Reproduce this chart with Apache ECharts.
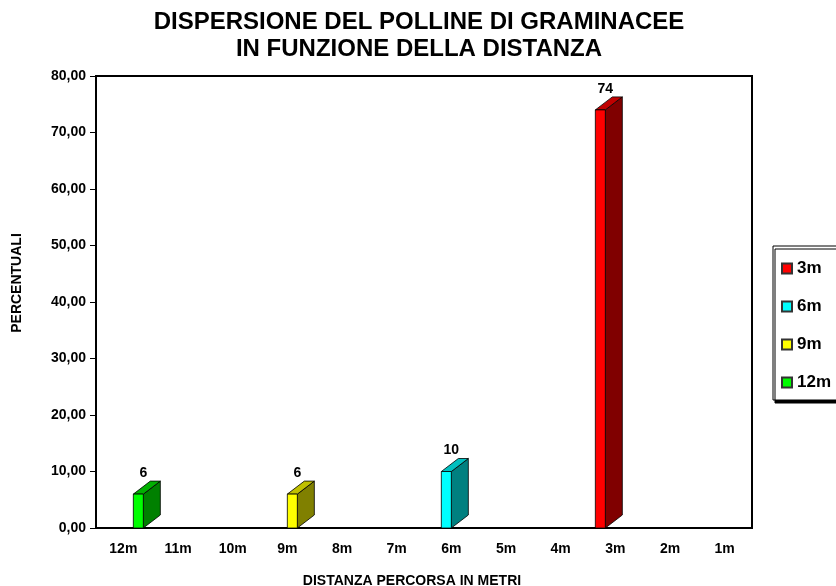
<!DOCTYPE html>
<html>
<head>
<meta charset="utf-8">
<script src="https://cdn.jsdelivr.net/npm/echarts@6/dist/echarts.min.js"></script>
<style>
  html, body { margin: 0; padding: 0; background: #fff; }
  #chart { width: 836px; height: 586px; }
</style>
</head>
<body>
<div id="chart"></div>
<script>
// dati
const categories = ["12m", "11m", "10m", "9m", "8m", "7m", "6m", "5m", "4m", "3m", "2m", "1m"];
const seriesNames = ["3m", "6m", "9m", "12m"];
const values3m = [null, null, null, null, null, null, null, null, null, 74, null, null];
const values6m = [null, null, null, null, null, null, 10, null, null, null, null, null];
const values9m = [null, null, null, 6, null, null, null, null, null, null, null, null];
const values12m = [6, null, null, null, null, null, null, null, null, null, null, null];
const yTicks = { min: 0, max: 80, interval: 10 };

// colori: fronte, lato, sopra
const faceColors = [
  ["#ff0000", "#800000", "#c00000"],
  ["#00ffff", "#008080", "#00c0c0"],
  ["#ffff00", "#808000", "#c0c000"],
  ["#00ff00", "#008000", "#00b000"],
];

const allValues = [values3m, values6m, values9m, values12m];
const font = "Liberation Sans, Arial, sans-serif";
const barW = 10;
const depthX = 17;
const depthY = -13;

const makeRender = (idx) => (params, api) => {
  const v = api.value(1);
  if (v == null || isNaN(v)) return;
  const p = api.coord([api.value(0), v]);
  const b = api.coord([api.value(0), 0]);
  const x0 = p[0] + (idx - 1.5) * barW - barW / 2;
  const x1 = x0 + barW;
  const top = p[1];
  const bottom = b[1];
  const c = faceColors[idx];
  const line = { stroke: "#000", lineWidth: 0.8 };
  return {
    type: "group",
    children: [
      {
        type: "polygon",
        shape: { points: [[x1, bottom], [x1 + depthX, bottom + depthY], [x1 + depthX, top + depthY], [x1, top]] },
        style: Object.assign({ fill: c[1] }, line),
      },
      {
        type: "polygon",
        shape: { points: [[x0, top], [x1, top], [x1 + depthX, top + depthY], [x0 + depthX, top + depthY]] },
        style: Object.assign({ fill: c[2] }, line),
      },
      {
        type: "rect",
        shape: { x: x0, y: top, width: barW, height: bottom - top },
        style: Object.assign({ fill: c[0] }, line),
      },
      {
        type: "text",
        style: {
          text: String(v),
          x: x0 + barW / 2 + 5,
          y: top + depthY - 1,
          align: "center",
          verticalAlign: "bottom",
          font: "bold 14px " + font,
          fill: "#000",
        },
      },
    ],
  };
};

const myChart = echarts.init(document.getElementById("chart"));

myChart.setOption({
  animation: false,
  title: {
    text: "DISPERSIONE DEL POLLINE DI GRAMINACEE\nIN FUNZIONE DELLA DISTANZA",
    left: 419,
    textAlign: "center",
    top: 9,
    padding: 0,
    textStyle: { fontFamily: font, fontSize: 24, fontWeight: "bold", color: "#000", lineHeight: 27 },
  },
  legend: {
    orient: "vertical",
    left: 773,
    top: 246,
    padding: [14, 12, 9, 8],
    itemGap: 21,
    itemWidth: 10,
    itemHeight: 10,
    icon: "rect",
    backgroundColor: "#fff",
    borderColor: "#000",
    borderWidth: 1,
    shadowColor: "#000",
    shadowOffsetX: 2,
    shadowOffsetY: 3,
    shadowBlur: 0,
    textStyle: { fontFamily: font, fontSize: 17, fontWeight: "bold", color: "#000", lineHeight: 17 },
    data: seriesNames,
  },
  grid: {
    left: 96,
    right: 84,
    top: 76,
    bottom: 58,
    outerBoundsMode: "none",
    show: true,
    borderColor: "#000",
    borderWidth: 2,
  },
  xAxis: {
    type: "category",
    data: categories,
    name: "DISTANZA PERCORSA IN METRI",
    nameLocation: "middle",
    nameGap: 46,
    nameTextStyle: { fontFamily: font, fontSize: 14, fontWeight: "bold", color: "#000", padding: [0, 24, 0, 0] },
    axisLine: { lineStyle: { color: "#000", width: 2 } },
    axisTick: { show: false },
    axisLabel: { margin: 14, fontFamily: font, fontSize: 14, fontWeight: "bold", color: "#000" },
  },
  yAxis: {
    type: "value",
    min: yTicks.min,
    max: yTicks.max,
    interval: yTicks.interval,
    axisLine: { show: true, lineStyle: { color: "#000", width: 2 } },
    axisTick: { show: true, length: 6, lineStyle: { color: "#000" } },
    splitLine: { show: false },
    axisLabel: {
      margin: 10,
      fontFamily: font,
      fontSize: 14,
      fontWeight: "bold",
      color: "#000",
      formatter: (v) => v.toFixed(2).replace(".", ","),
    },
  },
  graphic: [
    {
      type: "text",
      x: 17,
      y: 283,
      rotation: Math.PI / 2,
      style: {
        text: "PERCENTUALI",
        align: "center",
        verticalAlign: "middle",
        font: "bold 14px " + font,
        fill: "#000",
      },
    },
  ],
  series: seriesNames.map((name, idx) => ({
    name: name,
    type: "custom",
    renderItem: makeRender(idx),
    itemStyle: { color: faceColors[idx][0], borderColor: "#333", borderWidth: 1 },
    encode: { x: 0, y: 1 },
    data: allValues[idx].map((v, i) => [i, v]),
  })),
});
</script>
</body>
</html>
